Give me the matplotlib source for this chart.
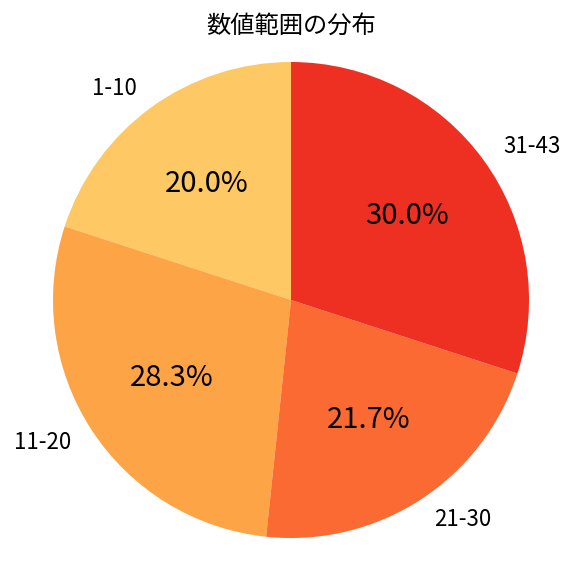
import matplotlib.pyplot as plt

plt.rcParams['font.family'] = ['Noto Sans CJK JP', 'DejaVu Sans']

# Datos del gráfico
etiquetas = ['1-10', '11-20', '21-30', '31-43']
conteos = [12, 17, 13, 18]
colores = ['#FEC865', '#FDA446', '#FC6A33', '#EE3023']

fig = plt.figure(figsize=(5.76, 5.76), dpi=100)
# ejes colocados a mano para que el círculo quede como en la referencia
ax = fig.add_axes([0.0094, -0.0167, 0.9917, 0.9917])

wedges, textos, autotextos = ax.pie(conteos, labels=etiquetas, colors=colores,
                                    autopct='%1.1f%%', startangle=90,
                                    textprops={'fontsize': 16})
for t in autotextos:
    t.set_fontsize(21)

ax.set_xlim(-1.2, 1.2)
ax.set_ylim(-1.2, 1.2)
ax.set_aspect('equal')

fig.text(0.505, 1 - 26 / 576, '数値範囲の分布', fontsize=17.5,
         ha='center', va='center')

plt.savefig('out.png', dpi=100)
